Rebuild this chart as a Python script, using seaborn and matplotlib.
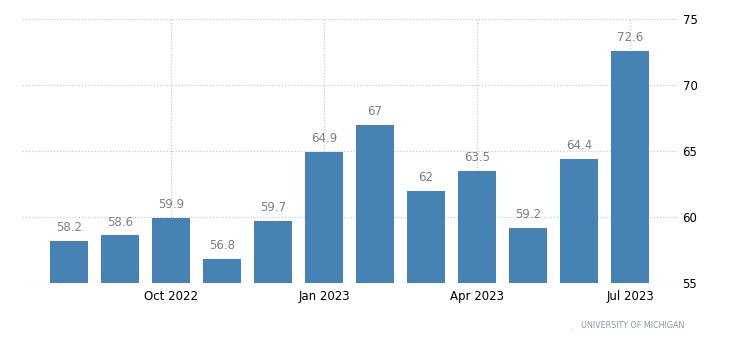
import pandas as pd
import seaborn as sns
import matplotlib.pyplot as plt

# 数据
months = ['Aug 2022', 'Sep 2022', 'Oct 2022', 'Nov 2022', 'Dec 2022', 'Jan 2023',
          'Feb 2023', 'Mar 2023', 'Apr 2023', 'May 2023', 'Jun 2023', 'Jul 2023']
values = [58.2, 58.6, 59.9, 56.8, 59.7, 64.9, 67, 62, 63.5, 59.2, 64.4, 72.6]
tick_months = ['Oct 2022', 'Jan 2023', 'Apr 2023', 'Jul 2023']
y_ticks = [55, 60, 65, 70, 75]
source = 'UNIVERSITY OF MICHIGAN'

df = pd.DataFrame({'month': months, 'value': values})

sns.set_style('white')
plt.rcParams['font.family'] = ['DejaVu Sans']

fig = plt.figure(figsize=(7.3, 3.51), dpi=100)
ax = fig.add_axes([0.0301, 0.1937, 0.8973, 0.7522])

sns.barplot(data=df, x='month', y='value', color='#4682b4', saturation=1,
            width=0.74, linewidth=0, edgecolor='none', ax=ax, zorder=2)

# 数值标签
for i, v in enumerate(values):
    ax.annotate(f'{v:g}', (i, v), xytext=(0, 5), textcoords='offset points',
                ha='center', va='bottom', fontsize=8.5, color='#7f7f7f', zorder=3)

ax.set_ylim(55, 75)
ax.set_xlim(-0.92, len(months) - 1 + 0.92)
ax.set_yticks(y_ticks)
ax.set_xticks([months.index(m) for m in tick_months])
ax.set_xticklabels(tick_months)
ax.yaxis.tick_right()
ax.tick_params(axis='y', length=0, pad=4, labelsize=8.5, labelcolor='black')
ax.tick_params(axis='x', length=4, width=0.8, color='#cccccc', pad=1,
               labelsize=8.5, labelcolor='black')
ax.set_xlabel('')
ax.set_ylabel('')

ax.grid(True, axis='both', linestyle=(0, (1, 1.5)), color='#cccccc', linewidth=0.9, zorder=0)
ax.set_axisbelow(True)
for s in ax.spines.values():
    s.set_visible(False)

fig.text(0.937, 0.074, source, ha='right', va='center', fontsize=5.8, color='#8a96a8')
fig.text(0.781, 0.068, '.', ha='center', va='center', fontsize=6, color='#8a96a8')

plt.savefig('out.png', dpi=100)
